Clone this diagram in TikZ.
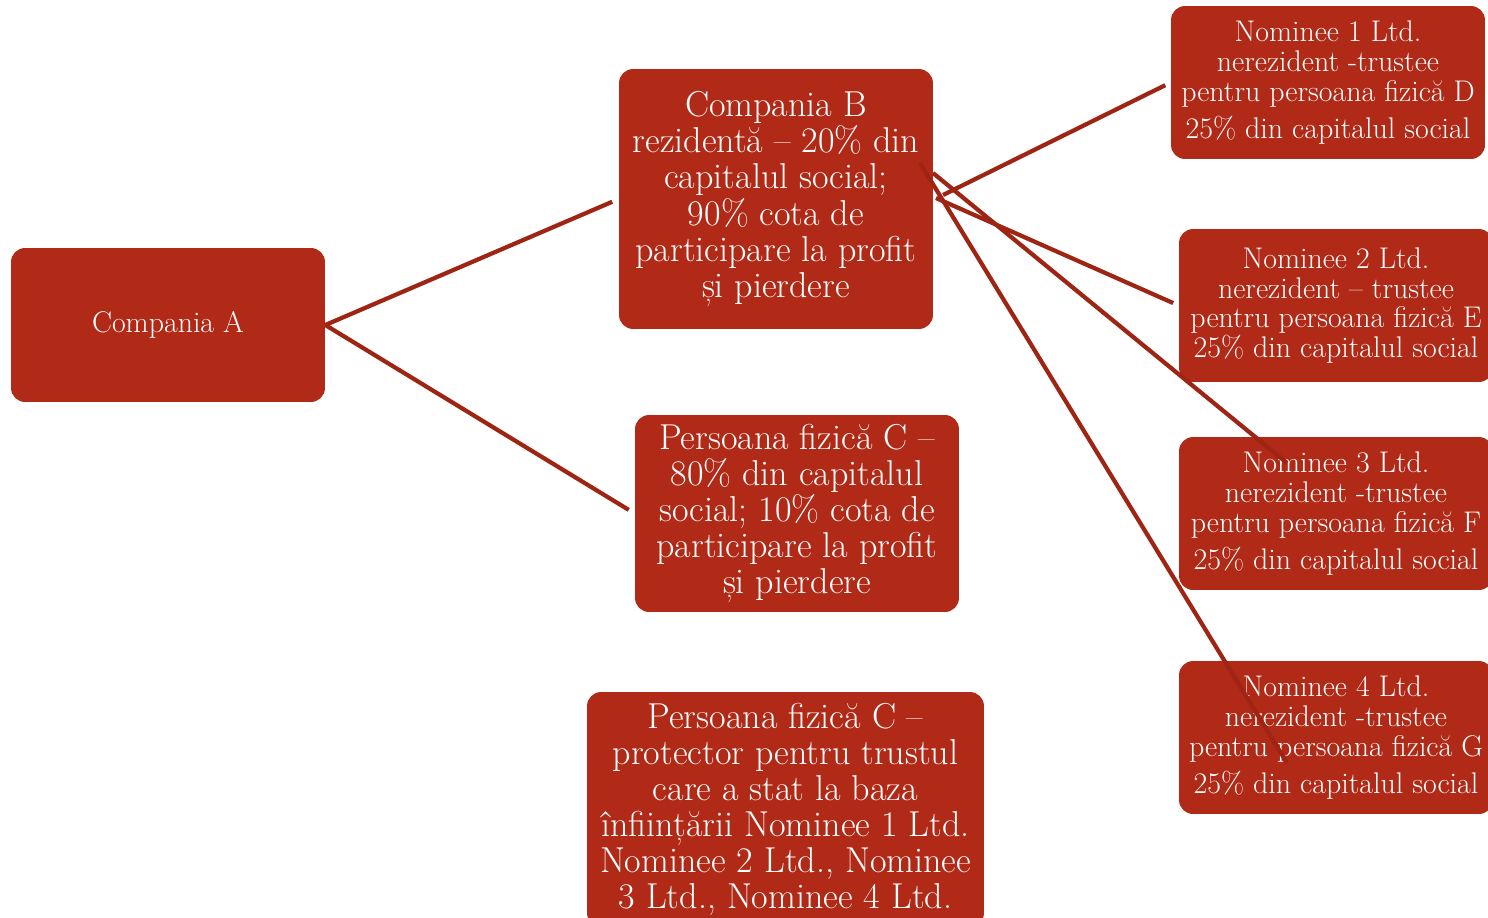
\documentclass[tikz,border=0pt]{standalone}
\usepackage{fontspec}
\usepackage{tikz}
\definecolor{boxred}{HTML}{B02A17}
\definecolor{linkred}{HTML}{9E2413}
\begin{document}
\begin{tikzpicture}[x=0.02cm,y=-0.02cm,
  firm/.style={fill=boxred,text=white,rounded corners=8pt,align=center,inner sep=2pt},
  big/.style={font=\fontsize{20.5}{20.5}\selectfont},
  small/.style={font=\fontsize{17}{17}\selectfont},
  link/.style={draw=linkred,line width=2.4pt}]
\useasboundingbox (0,0) rectangle (1488,917);
\clip (0,0) rectangle (1488,917);
\node (A) at (168,325) [firm,minimum width=6.28cm,minimum height=3.08cm,font=\fontsize{17}{17}\selectfont] {Compania A};
\node (B) at (776,199) [firm,big,minimum width=6.28cm,minimum height=5.2cm] {Compania B\\rezidentă -- 20\% din\\capitalul social;\\90\% cota de\\participare la profit\\și pierdere};
\node (C1) at (797,513.5) [firm,big,minimum width=6.48cm,minimum height=3.94cm] {Persoana fizică C --\\80\% din capitalul\\social; 10\% cota de\\participare la profit\\și pierdere};
\node (C2) at (785.5,809.5) [firm,big,minimum width=7.94cm,minimum height=4.7cm] {Persoana fizică C --\\protector pentru trustul\\care a stat la baza\\înființării Nominee 1 Ltd.\\Nominee 2 Ltd., Nominee\\3 Ltd., Nominee 4 Ltd.};
\node (N1) at (1328,82.5) [firm,small,minimum width=6.28cm,minimum height=3.06cm] {Nominee 1 Ltd.\\nerezident -trustee\\pentru persoana fizică D\\[4pt]25\% din capitalul social};
\node (N2) at (1336,305.5) [firm,small,minimum width=6.28cm,minimum height=3.06cm] {Nominee 2 Ltd.\\nerezident -- trustee\\pentru persoana fizică E\\25\% din capitalul social};
\node (N3) at (1336,513.5) [firm,small,minimum width=6.28cm,minimum height=3.06cm] {Nominee 3 Ltd.\\nerezident -trustee\\pentru persoana fizică F\\[4pt]25\% din capitalul social};
\node (N4) at (1336,737.5) [firm,small,minimum width=6.28cm,minimum height=3.06cm] {Nominee 4 Ltd.\\nerezident -trustee\\pentru persoana fizică G\\[4pt]25\% din capitalul social};
\coordinate (b1) at (943,195);
\coordinate (b2) at (936,198);
\coordinate (b3) at (933,173);
\coordinate (b4) at (920,163);
\coordinate (n3) at (1287,463);
\coordinate (n4) at (1287,763);
\draw[link,shorten >=0.14cm] (A.east) -- (B.west);
\draw[link,shorten >=0.14cm] (A.east) -- (C1.west);
\draw[link,shorten >=0.12cm] (b1) -- (N1.west);
\draw[link,shorten >=0.12cm] (b2) -- (N2.west);
\draw[link] (b3) -- (n3);
\draw[link] (b4) -- (n4);
\end{tikzpicture}
\end{document}
